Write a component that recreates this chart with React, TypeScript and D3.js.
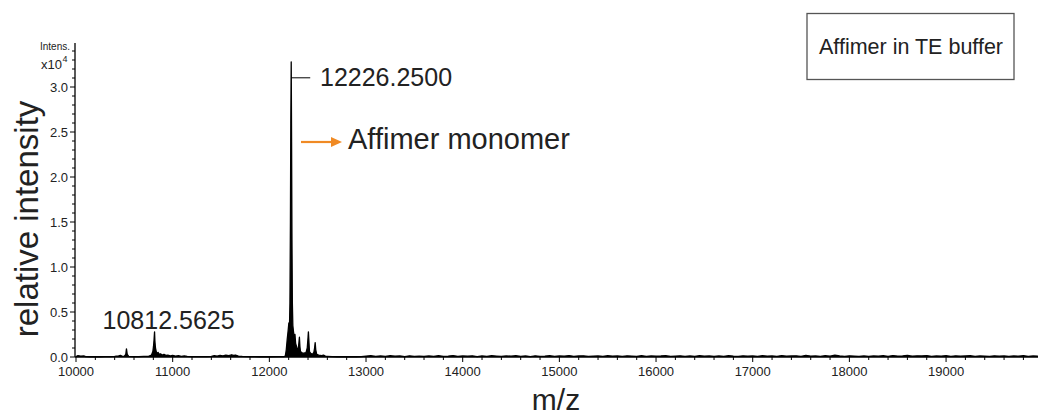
import React from "react";
import * as d3 from "d3";

// Mass spectrum of the Affimer sample (intensities in units of 10^4)
const lowMassRegion: [number, number][] = [
  [10000, 0.005], [10020, 0.015], [10050, 0.01], [10080, 0.012], [10100, 0.004],
  [10150, 0.003], [10200, 0.004], [10250, 0.003], [10300, 0.005], [10350, 0.004],
  [10400, 0.006], [10440, 0.012], [10460, 0.018], [10480, 0.008], [10500, 0.01],
  [10515, 0.03], [10522, 0.09], [10530, 0.03], [10545, 0.008], [10600, 0.005],
  [10650, 0.004], [10700, 0.006], [10750, 0.008], [10780, 0.02], [10795, 0.06],
  [10802, 0.12], [10808, 0.2], [10812.5625, 0.28], [10816, 0.18], [10822, 0.1],
  [10830, 0.06], [10840, 0.04], [10850, 0.05], [10860, 0.03], [10875, 0.035],
  [10890, 0.02], [10910, 0.03], [10930, 0.018], [10950, 0.02], [10975, 0.012],
  [11000, 0.018], [11030, 0.01], [11060, 0.015], [11090, 0.008], [11120, 0.012],
  [11150, 0.006], [11200, 0.005], [11250, 0.004], [11300, 0.004], [11350, 0.005],
  [11400, 0.008], [11430, 0.015], [11460, 0.01], [11490, 0.018], [11520, 0.012],
  [11550, 0.02], [11580, 0.015], [11610, 0.025], [11630, 0.018], [11650, 0.022],
  [11680, 0.01], [11720, 0.006], [11800, 0.004], [11900, 0.003], [12000, 0.003],
  [12100, 0.004],
];

const monomerRegion: [number, number][] = [
  [12150, 0.005], [12165, 0.01], [12175, 0.08], [12185, 0.2], [12195, 0.3],
  [12202, 0.38], [12208, 0.32], [12213, 0.6], [12218, 1.5], [12222, 2.6],
  [12226.25, 3.28], [12230, 2.4], [12234, 1.3], [12238, 0.6], [12243, 0.35],
  [12250, 0.28], [12258, 0.22], [12265, 0.25], [12272, 0.15], [12280, 0.12],
  [12290, 0.08], [12300, 0.1], [12306, 0.16], [12311, 0.22], [12316, 0.12],
  [12322, 0.06], [12335, 0.05], [12350, 0.04], [12365, 0.045], [12380, 0.05],
  [12392, 0.1], [12399, 0.2], [12404, 0.28], [12409, 0.18], [12415, 0.06],
  [12428, 0.04], [12445, 0.03], [12460, 0.05], [12468, 0.1], [12474, 0.16],
  [12480, 0.08], [12490, 0.03], [12510, 0.02], [12540, 0.015], [12560, 0.02],
  [12580, 0.01], [12600, 0.008],
];

// high-mass baseline, sampled every 50 Da from 12650
const baselineStartMz = 12650;
const baselineStepMz = 50;
const baselineIntensity: number[] = [
  0.004, 0.003, 0.005, 0.003, 0.004, 0.003, 0.004, 0.01, 0.014, 0.008, 0.012, 0.006, 0.015, 0.009, 0.011, 0.005, 0.013, 0.007, 0.01, 0.006,
  0.012, 0.008, 0.014, 0.006, 0.01, 0.016, 0.007, 0.011, 0.009, 0.013, 0.005, 0.012, 0.008, 0.015, 0.01, 0.006, 0.012, 0.009, 0.014, 0.007,
  0.011, 0.005, 0.013, 0.008, 0.01, 0.014, 0.006, 0.012, 0.009, 0.016, 0.007, 0.011, 0.013, 0.006, 0.01, 0.012, 0.008, 0.015, 0.009, 0.011,
  0.006, 0.013, 0.01, 0.008, 0.014, 0.007, 0.012, 0.009, 0.011, 0.015, 0.006, 0.01, 0.013, 0.008, 0.012, 0.007, 0.014, 0.009, 0.011, 0.006,
  0.012, 0.008, 0.015, 0.01, 0.007, 0.013, 0.009, 0.011, 0.006, 0.014, 0.01, 0.012, 0.008, 0.016, 0.009, 0.011, 0.013, 0.007, 0.018, 0.01,
  0.012, 0.008, 0.014, 0.009, 0.02, 0.011, 0.007, 0.013, 0.01, 0.008, 0.012, 0.006, 0.011, 0.009, 0.014, 0.008, 0.016, 0.01, 0.012, 0.018,
  0.009, 0.013, 0.011, 0.016, 0.008, 0.012, 0.01, 0.015, 0.007, 0.013, 0.009, 0.011, 0.014, 0.008, 0.012, 0.01, 0.007, 0.013, 0.009, 0.011,
  0.006, 0.012, 0.009, 0.014, 0.008, 0.011, 0.01,
];

const xMajorTicks = [10000, 11000, 12000, 13000, 14000, 15000, 16000, 17000, 18000, 19000];
const yMajorTicks = [0, 0.5, 1.0, 1.5, 2.0, 2.5, 3.0];

const peakLabels = [
  { mz: 12226.25, text: "12226.2500" },
  { mz: 10812.5625, text: "10812.5625" },
];

const W = 1038;
const H = 417;
const FONT = "Arial, 'Liberation Sans', Helvetica, sans-serif";
const TEXT = "#222";

export default function App() {
  const spectrum: [number, number][] = [
    ...lowMassRegion,
    ...monomerRegion,
    ...baselineIntensity.map((v, i) => [baselineStartMz + i * baselineStepMz, v] as [number, number]),
  ];

  const x = d3.scaleLinear().domain([10000, 19951]).range([76, 1038]);
  const y = d3.scaleLinear().domain([0, 3.4667]).range([357, 45]);
  const axisX = 75;
  const axisY = 357;

  const line = d3.line<[number, number]>().x((d) => x(d[0])).y((d) => y(d[1]));
  const area = d3
    .area<[number, number]>()
    .x((d) => x(d[0]))
    .y0(y(0))
    .y1((d) => y(d[1]));

  const xMinor = d3.range(10000, 19951, 200).filter((v) => !xMajorTicks.includes(v));
  const yMinor = d3.range(0, 35).map((i) => i / 10).filter((v) => !yMajorTicks.some((t) => Math.abs(t - v) < 1e-6));

  const big = peakLabels[0];
  const small = peakLabels[1];
  const bigPeak = monomerRegion.find((d) => d[0] === big.mz)![1];
  const smallPeak = lowMassRegion.find((d) => d[0] === small.mz)![1];

  return (
    <svg
      width={W}
      height={H}
      viewBox={`0 0 ${W} ${H}`}
      style={{ position: "absolute", left: 0, top: 0, background: "#fff", fontFamily: FONT }}
    >
      <rect x={0} y={0} width={W} height={H} fill="#fff" />

      {/* spectrum trace */}
      <path d={area(spectrum)!} fill="#000" />
      <path d={line(spectrum)!} fill="none" stroke="#000" strokeWidth={1.3} strokeLinejoin="round" />

      {/* x axis */}
      <line x1={axisX} x2={W} y1={axisY} y2={axisY} stroke="#000" strokeWidth={1.3} />
      {xMinor.map((v) => (
        <line key={"xm" + v} x1={x(v)} x2={x(v)} y1={axisY} y2={axisY + 3} stroke="#000" strokeWidth={1} />
      ))}
      {xMajorTicks.map((v) => (
        <g key={"xt" + v}>
          <line x1={x(v)} x2={x(v)} y1={axisY} y2={axisY + 5} stroke="#000" strokeWidth={1} />
          <text x={x(v)} y={376} textAnchor="middle" fontSize={13} fill={TEXT}>
            {v}
          </text>
        </g>
      ))}

      {/* y axis */}
      <line x1={axisX} x2={axisX} y1={43} y2={axisY} stroke="#000" strokeWidth={1.3} />
      {yMinor.map((v) => (
        <line key={"ym" + v} x1={axisX - 3} x2={axisX} y1={y(v)} y2={y(v)} stroke="#000" strokeWidth={1} />
      ))}
      {yMajorTicks.map((v) => (
        <g key={"yt" + v}>
          <line x1={axisX - 5} x2={axisX} y1={y(v)} y2={y(v)} stroke="#000" strokeWidth={1} />
          <text x={68} y={y(v) + 4.5} textAnchor="end" fontSize={13} fill={TEXT}>
            {v.toFixed(1)}
          </text>
        </g>
      ))}
      <text x={70} y={50} textAnchor="end" fontSize={10} fill={TEXT}>
        Intens.
      </text>
      <text x={62} y={69} textAnchor="end" fontSize={13} fill={TEXT}>
        x10
      </text>
      <text x={62.5} y={62} fontSize={9} fill={TEXT}>
        4
      </text>

      {/* axis titles */}
      <text
        transform={`translate(38, 219) rotate(-90)`}
        textAnchor="middle"
        fontSize={33}
        fill={TEXT}
      >
        relative intensity
      </text>
      <text x={556} y={410} textAnchor="middle" fontSize={30} fill={TEXT}>
        m/z
      </text>

      {/* peak annotations */}
      <line x1={x(big.mz)} x2={x(big.mz) + 19} y1={y(bigPeak) + 16} y2={y(bigPeak) + 16} stroke="#000" strokeWidth={1} />
      <text x={320} y={86} fontSize={25} fill={TEXT}>
        {big.text}
      </text>
      <text x={x(small.mz) - 52} y={y(smallPeak) - 3} fontSize={25} fill={TEXT}>
        {small.text}
      </text>

      {/* monomer arrow */}
      <line x1={301} x2={333} y1={142} y2={142} stroke="#F08A24" strokeWidth={2.2} />
      <path d="M331,137 L342,142 L331,147 Z" fill="#F08A24" />
      <text x={348} y={149} fontSize={29} fill={TEXT}>
        Affimer monomer
      </text>

      {/* sample legend box */}
      <rect x={807} y={13.5} width={207} height={66} fill="#fff" stroke="#555" strokeWidth={1.3} />
      <text x={911} y={54} textAnchor="middle" fontSize={21.5} fill={TEXT}>
        Affimer in TE buffer
      </text>
    </svg>
  );
}
